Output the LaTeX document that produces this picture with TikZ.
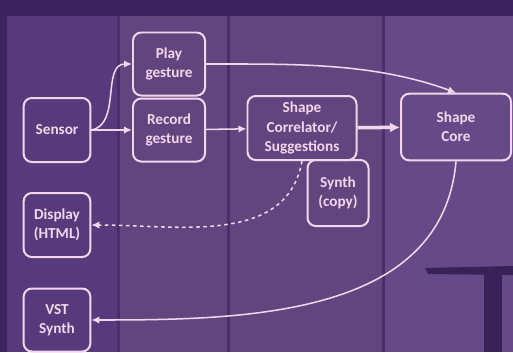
\documentclass[tikz,border=0pt]{standalone}
\usepackage{fontspec}
\setmainfont{Carlito}
\usetikzlibrary{arrows.meta,positioning}
\definecolor{chalk}{HTML}{F4D6EA}
\definecolor{stage}{HTML}{62457F}
\definecolor{stageleft}{HTML}{573A7B}
\definecolor{stageright}{HTML}{664A87}
\definecolor{dusk}{HTML}{3E2361}
\definecolor{seam}{HTML}{4A2E6C}
\definecolor{shadow}{HTML}{3A2157}
\tikzset{
  block/.style={draw=chalk,line width=1.7pt,rounded corners=7pt,inner sep=2pt,align=center,text=chalk,font=\fontsize{13}{16.5}\selectfont\bfseries},
  flow/.style={-{Latex[length=2.4mm,width=2.2mm]},line width=1.3pt,draw=chalk},
  bigflow/.style={-{Latex[length=3mm,width=3mm]},line width=3pt,draw=chalk},
  softflow/.style={-{Latex[length=2.4mm,width=2.2mm]},line width=1.3pt,draw=chalk,dashed}
}
\begin{document}
\begin{tikzpicture}[x=0.03cm,y=-0.03cm]
    % backdrop
    \useasboundingbox (0,0) rectangle (513,352);
    \fill[stage] (0,0) rectangle (513,352);
    \fill[stageleft] (0,0) rectangle (118,352);
    \fill[stageright] (383,0) rectangle (513,352);
    \fill[dusk] (0,0) rectangle (513,16);
    \fill[dusk] (0,0) rectangle (7,352);
    \fill[seam] (117,16) rectangle (120,352);
    \fill[seam] (227,16) rectangle (230,352);
    \fill[seam] (382,16) rectangle (385,352);
    \fill[shadow] (425,268) -- (513,266) -- (513,275) -- (428,274) -- cycle;
    \fill[shadow] (484,274) rectangle (502,352);

    \node[block,minimum width=2.0cm,minimum height=1.92cm] (sensor) at (57,130) {Sensor};
    \node[block,minimum width=2.16cm,minimum height=1.89cm] (play) at (169,64) {Play\\gesture};
    \node[block,minimum width=2.16cm,minimum height=1.89cm] (record) at (169,130) {Record\\gesture};
    \node[block,minimum width=3.27cm,minimum height=1.92cm] (correlator) at (302,128) {Shape\\Correlator/\\Suggestions};
    \node[block,minimum width=1.83cm,minimum height=1.98cm] (synthcopy) at (338,193) {Synth\\(copy)};
    \node[block,minimum width=3.3cm,minimum height=2.0cm] (core) at (456,127) {Shape\\Core};
    \node[block,minimum width=2.0cm,minimum height=1.92cm] (display) at (57,225) {Display\\(HTML)};
    \node[block,minimum width=2.0cm,minimum height=1.89cm] (vst) at (57,320) {VST\\Synth};

    \draw[flow] (sensor.east) to[out=10,in=180] (play.west);
    \draw[flow] (sensor) -- (record);
    \draw[flow] (record) -- (correlator);
    \draw[bigflow] (correlator) -- (core);
    \draw[flow] (play.east) to[out=0,in=160,looseness=0.9] (core.north);
    \draw[softflow] (correlator.south) to[out=-100,in=0] (display.east);
    \draw[flow] (core.south) to[out=-95,in=0] (vst.east);
\end{tikzpicture}
\end{document}
